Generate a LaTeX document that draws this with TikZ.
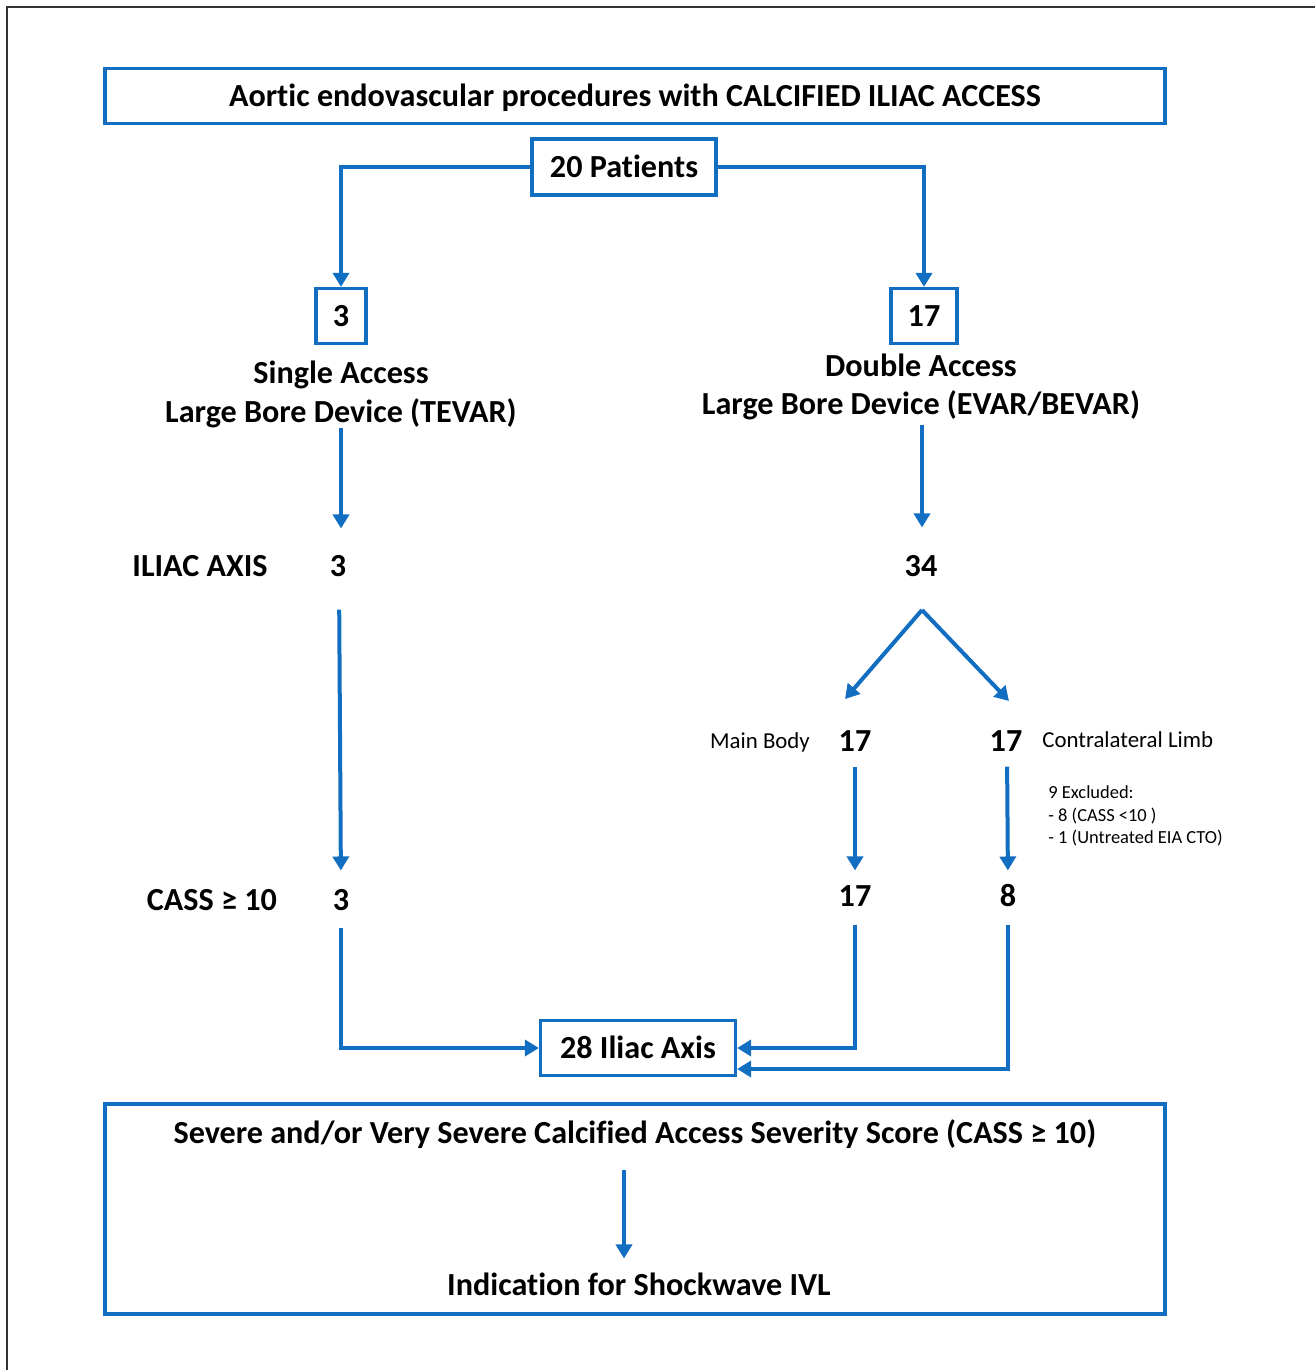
\documentclass[tikz,border=0pt]{standalone}
\usepackage{fontspec}
\setmainfont{Carlito}[Ligatures=NoCommon]
\usetikzlibrary{calc,arrows.meta}
\definecolor{flowblue}{RGB}{18,110,192}
\tikzset{
	box/.style={draw=flowblue, line width=0.065cm, inner sep=0pt, text height=11.6pt, text depth=0pt, font=\fontsize{18.3}{22}\selectfont\bfseries},
	big/.style={inner sep=0pt, text height=11.6pt, text depth=0pt, font=\fontsize{18.3}{22}\selectfont\bfseries},
	small/.style={inner sep=0pt, text height=8.2pt, text depth=0pt, font=\fontsize{13}{15}\selectfont},
	flow/.style={draw=flowblue, line width=0.08cm, -{Triangle[length=0.28cm,width=0.32cm]}}
}

\begin{document}
\begin{tikzpicture}[x=0.02cm, y=-0.02cm]
			%%%%% START %%%%%
			
			\useasboundingbox (0, 0) rectangle (1315, 1370);
			\draw[line width=0.04cm, color=black!80] (7, 1370) -- (7, 7) -- (1315, 7);
			
			\node[box, minimum width=21.2cm, minimum height=1.1cm] (title) at (635, 96) {Aortic endovascular procedures with CALCIFIED ILIAC ACCESS};
			\node[box, minimum width=3.68cm, minimum height=1.12cm] (pat) at (624, 167) {20 Patients};
			
			\node[box, minimum width=1cm, minimum height=1.1cm] (nS) at (341, 316) {3};
			\node[box, minimum width=1.32cm, minimum height=1.1cm] (nD) at (924, 316) {17};
			
			\node[big] (single) at (341, 373) {Single Access};
			\node[big] (tevar) at (341, 412) {Large Bore Device (TEVAR)};
			\node[big] (double) at (921, 366) {Double Access};
			\node[big] (evar) at (921, 404) {Large Bore Device (EVAR/BEVAR)};
			
			\node[big] (iliac) at (200, 566) {ILIAC AXIS};
			\node[big] (sAx) at (338, 566) {3};
			\node[big] (dAx) at (921, 566) {34};
			
			\coordinate (fork) at (922, 610);
			\coordinate (mbTip) at (845, 699);
			\coordinate (clTip) at (1009, 701);
			
			\node[small] (mb) at (760, 741) {Main Body};
			\node[big] (mbN) at (855, 741) {17};
			\node[big] (clN) at (1006, 741) {17};
			\node[small, anchor=west] (cl) at (1042, 740) {Contralateral Limb};
			\node[anchor=north west, inner sep=0pt, align=left, font=\fontsize{10.5}{13}\selectfont] (excl) at (1048, 785) {9 Excluded:\\- 8 (CASS <10 )\\- 1 (Untreated EIA CTO)};
			
			\node[big] (cass) at (212, 900) {CASS ≥ 10};
			\node[big] (sC) at (341, 900) {3};
			\node[big] (mbC) at (855, 896) {17};
			\node[big] (clC) at (1008, 896) {8};
			
			\node[box, minimum width=3.9cm, minimum height=1.1cm] (axis) at (638, 1048) {28 Iliac Axis};
			
			\node[draw=flowblue, line width=0.065cm, minimum width=21.2cm, minimum height=4.2cm] (score) at (635, 1209) {};
			\node[big] (sev) at (635, 1133) {Severe and/or Very Severe Calcified Access Severity Score (CASS ≥ 10)};
			\node[big] (ivl) at (639, 1285) {Indication for Shockwave IVL};
			
			\draw[flow] (pat.west) -| (nS.north);
			\draw[flow] (pat.east) -| (nD.north);
			
			\draw[flow, shorten <=0.1cm, shorten >=0.54cm] (tevar.south -| nS) -- (sAx.north -| nS);
			\draw[flow, shorten <=0.2cm, shorten >=0.56cm] (evar.south -| fork) -- (dAx.north -| fork);
			\draw[flow, shorten <=0.66cm, shorten >=0.38cm] ([xshift=0.02cm]sAx.south) -- (sC.north);
			
			\draw[flow] (fork) -- (mbTip);
			\draw[flow] (fork) -- (clTip);
			
			\draw[flow, shorten <=0.3cm, shorten >=0.3cm] (mbN.south) -- (mbC.north);
			\draw[flow, shorten <=0.3cm, shorten >=0.3cm] ([xshift=0.02cm]clN.south) -- (clC.north);
			
			\draw[flow, shorten <=0.34cm] (sC.south) |- (axis.west);
			\draw[flow, shorten <=0.36cm] (mbC.south) |- (axis.east);
			\draw[flow, shorten <=0.36cm] (clC.south) |- ($(axis.east)+(0, 21)$);
			
			\draw[flow, shorten <=0.52cm, shorten >=0.32cm] (sev.south -| pat) -- (ivl.north -| pat);
			
			%%%%% END %%%%%
		\end{tikzpicture}
\end{document}
